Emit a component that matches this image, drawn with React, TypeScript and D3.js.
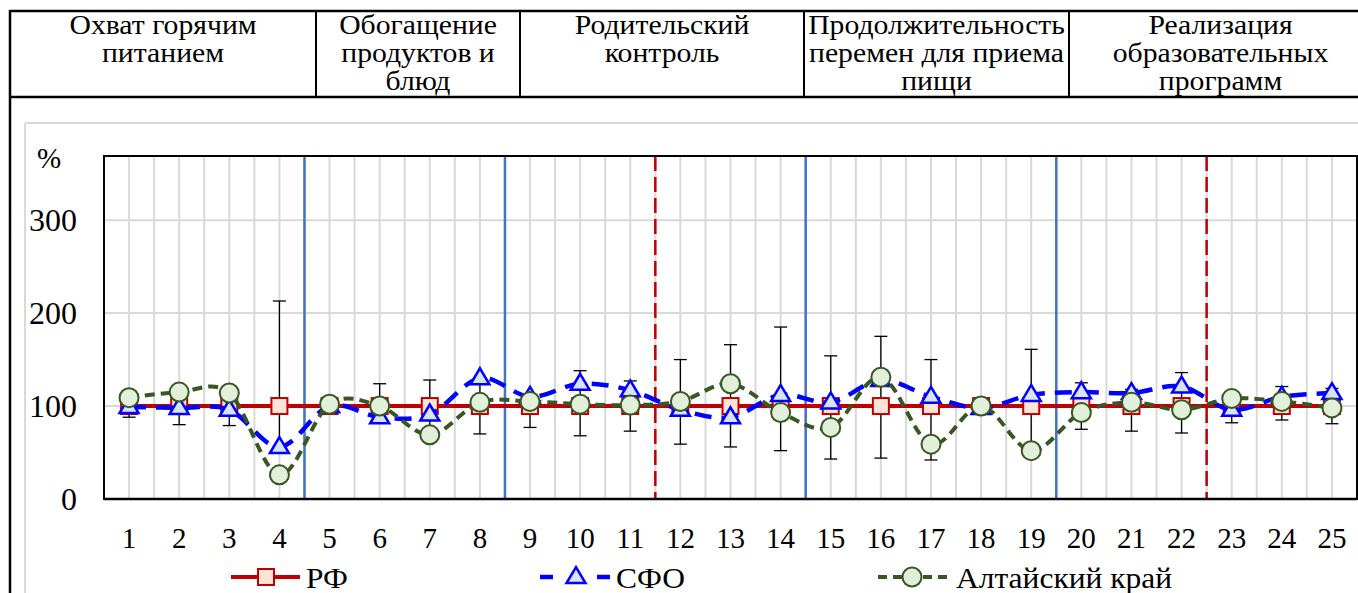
import React from "react";
import * as d3 from "d3";

const categories = Array.from({ length: 25 }, (_, i) => String(i + 1));
const rfValues = [100,100,100,100,100,100,100,100,100,100,100,100,100,100,100,100,100,100,100,100,100,100,100,100,100];
const sfoValues = [99, 98, 96, 56, 100, 88, 91, 130, 110, 124, 117, 96, 88, 112, 104, 128, 110, 98, 112, 115, 114, 121, 96, 110, 114];
const altaiValues = [109, 115, 114, 26, 102, 100, 69, 104, 105, 102, 101, 105, 124, 93, 77, 131, 59, 100, 52, 93, 104, 96, 108, 105, 98];
const errLow = [88, 80, 79, 52, 96, 86, 72, 70, 77, 68, 73, 59, 56, 52, 43, 44, 42, 97, 52, 75, 73, 71, 82, 85, 81];
const errHigh = [104, 118, 118, 213, 105, 124, 128, 125, 112, 138, 127, 150, 166, 185, 154, 175, 150, 103, 161, 125, 118, 136, 108, 121, 119];
const yTicks = [0, 100, 200, 300];
const blueSeparators = [4, 8, 14, 19];
const redSeparators = [11, 22];
const headerColumns = [
  ["Охват горячим", "питанием"],
  ["Обогащение", "продуктов и", "блюд"],
  ["Родительский", "контроль"],
  ["Продолжительность", "перемен для приема", "пищи"],
  ["Реализация", "образовательных", "программ"],
];
const headerDividers = [10, 316, 520, 804, 1069, 1372];
const legendItems = ["РФ", "СФО", "Алтайский край"];

const W = 1358;
const H = 593;
const PL = 104, PR = 1357, PT = 156, PB = 499;
const FONT = "Liberation Serif, DejaVu Serif, serif";
const tStyle = { fontFamily: FONT };

export default function App() {
  const x = d3.scaleBand<string>().domain(categories).range([PL, PR]).paddingInner(0).paddingOuter(0);
  const bw = x.bandwidth();
  const cx = (i: number) => (x(categories[i]) as number) + bw / 2;
  const y = d3.scaleLinear().domain([0, 369]).range([PB, PT]);

  const line = d3
    .line<number>()
    .x((_, i) => cx(i))
    .y((d) => y(d));
  const smooth = d3
    .line<number>()
    .x((_, i) => cx(i))
    .y((d) => y(d))
    .curve(d3.curveCatmullRom.alpha(0));

  const vGrid: number[] = [];
  for (let i = 0; i < categories.length; i++) {
    vGrid.push(cx(i));
    if (i > 0) vGrid.push(x(categories[i]) as number);
  }

  const boundary = (n: number) => x(categories[n]) as number;

  const sq = 8;
  const triPath = (px: number, py: number) => {
    const w = 9.5, h = 16;
    return `M${px},${py - h * 0.62}L${px + w},${py + h * 0.38}L${px - w},${py + h * 0.38}Z`;
  };

  const legendY = 577;

  return (
    <svg width={W} height={H} style={{ position: "absolute", left: 0, top: 0, background: "#fff", fontFamily: FONT }}>
      {/* header table */}
      <line x1={10} x2={W} y1={11} y2={11} stroke="#000" strokeWidth={2.5} />
      <line x1={10} x2={W} y1={97} y2={97} stroke="#000" strokeWidth={2.5} />
      <line x1={10} x2={10} y1={10} y2={H} stroke="#000" strokeWidth={2.5} />
      {headerDividers.slice(1, 5).map((d, i) => (
        <line key={i} x1={d} x2={d} y1={11} y2={97} stroke="#000" strokeWidth={2} />
      ))}
      {headerColumns.map((lines, ci) => {
        const mid = (headerDividers[ci] + headerDividers[ci + 1]) / 2;
        return lines.map((t, li) => (
          <text
            key={`${ci}-${li}`}
            transform={`translate(${mid},${34 + li * 28}) scale(1.1,1)`}
            fontSize={27}
            textAnchor="middle"
            fill="#000"
            style={tStyle}
          >
            {t}
          </text>
        ));
      })}
      {/* chart area border */}
      <line x1={25} x2={W} y1={123} y2={123} stroke="#d9d9d9" strokeWidth={2} />
      <line x1={25} x2={25} y1={123} y2={H} stroke="#d9d9d9" strokeWidth={2} />

      {/* gridlines */}
      {yTicks.slice(1).map((t) => (
        <line key={t} x1={PL} x2={PR} y1={y(t)} y2={y(t)} stroke="#d9d9d9" strokeWidth={2} />
      ))}
      {vGrid.map((gx, i) => (
        <line key={i} x1={gx} x2={gx} y1={PT} y2={PB} stroke="#d9d9d9" strokeWidth={2} />
      ))}
      {/* separators */}
      {blueSeparators.map((n) => (
        <line key={n} x1={boundary(n)} x2={boundary(n)} y1={PT} y2={PB} stroke="#4472c4" strokeWidth={2.5} />
      ))}
      {redSeparators.map((n) => (
        <line key={n} x1={boundary(n)} x2={boundary(n)} y1={PT} y2={PB} stroke="#c00000" strokeWidth={2.5} strokeDasharray="15 6" />
      ))}
      {/* plot frame */}
      <rect x={PL} y={PT} width={PR - PL} height={PB - PT} fill="none" stroke="#000" strokeWidth={2} />
      <line x1={PL} x2={PR} y1={PB} y2={PB} stroke="#000" strokeWidth={2.5} />

      {/* RF series */}
      <path d={line(rfValues) || ""} fill="none" stroke="#c00000" strokeWidth={4} />
      {errLow.map((lo, i) => (
        <g key={i} stroke="#000" strokeWidth={1.3}>
          <line x1={cx(i)} x2={cx(i)} y1={y(lo)} y2={y(errHigh[i])} />
          <line x1={cx(i) - 6.5} x2={cx(i) + 6.5} y1={y(lo)} y2={y(lo)} />
          <line x1={cx(i) - 6.5} x2={cx(i) + 6.5} y1={y(errHigh[i])} y2={y(errHigh[i])} />
        </g>
      ))}
      {rfValues.map((v, i) => (
        <rect key={i} x={cx(i) - sq} y={y(v) - sq} width={sq * 2} height={sq * 2} fill="#fce4d6" stroke="#c00000" strokeWidth={2} />
      ))}

      {/* SFO series */}
      <path d={smooth(sfoValues) || ""} fill="none" stroke="#0000ff" strokeWidth={4.5} strokeDasharray="17 10" />
      {sfoValues.map((v, i) => (
        <path key={i} d={triPath(cx(i), y(v))} fill="#dae3f3" stroke="#0000ff" strokeWidth={2.5} strokeLinejoin="miter" />
      ))}

      {/* Altai series */}
      <path d={smooth(altaiValues) || ""} fill="none" stroke="#385723" strokeWidth={4} strokeDasharray="10 6" />
      {altaiValues.map((v, i) => (
        <circle key={i} cx={cx(i)} cy={y(v)} r={9.5} fill="#e2efda" stroke="#385723" strokeWidth={2} />
      ))}

      {/* y axis labels */}
      {yTicks.map((t) => (
        <text key={t} x={77} y={y(t)} dy="0.35em" fontSize={32} textAnchor="end" fill="#000" style={tStyle}>
          {t}
        </text>
      ))}
      <text x={37} y={168} fontSize={29} fill="#000" style={tStyle}>%</text>
      {/* x axis labels */}
      {categories.map((c, i) => (
        <text key={c} x={cx(i)} y={548} fontSize={29} textAnchor="middle" fill="#000" style={tStyle}>
          {c}
        </text>
      ))}

      {/* legend */}
      <g>
        <line x1={231} x2={300} y1={legendY} y2={legendY} stroke="#c00000" strokeWidth={4} />
        <rect x={266 - sq} y={legendY - sq} width={sq * 2} height={sq * 2} fill="#fce4d6" stroke="#c00000" strokeWidth={2} />
        <text transform={`translate(306,${legendY}) scale(1.05,1)`} dy="0.35em" fontSize={30} fill="#000" style={tStyle}>{legendItems[0]}</text>

        <line x1={540} x2={553} y1={legendY} y2={legendY} stroke="#0000ff" strokeWidth={4.5} />
        <line x1={597} x2={610} y1={legendY} y2={legendY} stroke="#0000ff" strokeWidth={4.5} />
        <path d={triPath(576, legendY)} fill="#dae3f3" stroke="#0000ff" strokeWidth={2.5} />
        <text transform={`translate(616,${legendY}) scale(1.05,1)`} dy="0.35em" fontSize={30} fill="#000" style={tStyle}>{legendItems[1]}</text>

        <path d={`M878,${legendY}L948,${legendY}`} stroke="#385723" strokeWidth={4} strokeDasharray="9 6" />
        <circle cx={912} cy={legendY} r={9.5} fill="#e2efda" stroke="#385723" strokeWidth={2} />
        <text transform={`translate(956,${legendY}) scale(1.05,1)`} dy="0.35em" fontSize={30} fill="#000" style={tStyle}>{legendItems[2]}</text>
      </g>
    </svg>
  );
}
